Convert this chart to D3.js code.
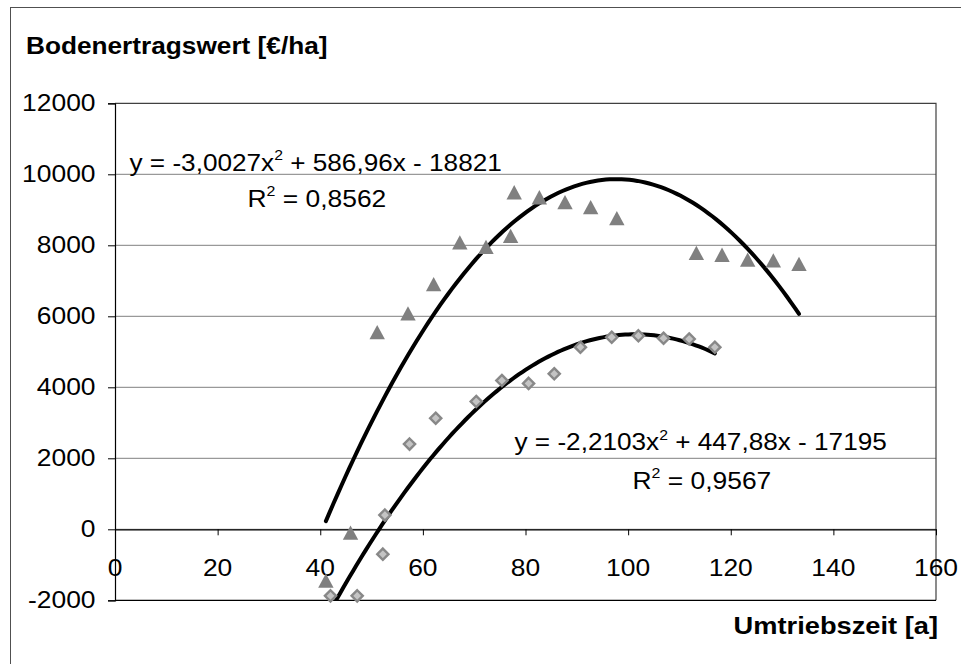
<!DOCTYPE html>
<html>
<head>
<meta charset="utf-8">
<script src="https://cdn.jsdelivr.net/npm/d3@7"></script>
<style>
  html, body { margin: 0; padding: 0; background: #fff; }
  svg { display: block; }
  text { font-family: Arial, "Liberation Sans", sans-serif; fill: #000; }
</style>
</head>
<body>
<svg id="chart" width="961" height="664"></svg>
<script>
// Rotation age [a] vs. soil expectation value [€/ha], two stands with quadratic trendlines
const xTicks = [0, 20, 40, 60, 80, 100, 120, 140, 160];
const yTicks = [-2000, 0, 2000, 4000, 6000, 8000, 10000, 12000];

// Series A (triangles)
const triX = [41.1, 45.9, 51.1, 57.1, 62.1, 67.2, 72.3, 77.1, 77.8, 82.7, 87.7, 92.7, 97.8, 113.3, 118.3, 123.3, 128.3, 133.3];
const triY = [-1450, -100, 5550, 6080, 6900, 8080, 7950, 8260, 9490, 9350, 9210, 9070, 8760, 7780, 7730, 7590, 7570, 7470];

// Series B (diamonds)
const diaX = [42.0, 47.2, 52.2, 52.6, 57.4, 62.5, 70.4, 75.4, 80.6, 85.6, 90.7, 96.8, 102.0, 106.9, 111.9, 116.9];
const diaY = [-1875, -1875, -700, 400, 2400, 3130, 3600, 4190, 4110, 4380, 5130, 5410, 5450, 5380, 5360, 5130];

// Polynomial trendline coefficients [a, b, c] for y = a x² + b x + c, and R²
const trendA = [-3.0027, 586.96, -18821];
const trendB = [-2.2103, 447.88, -17195];
const r2A = "0,8562";
const r2B = "0,9567";

const svg = d3.select("#chart");

// Outer chart frame (only the top and left edges fall inside the page)
svg.append("rect")
  .attr("x", 10.5).attr("y", 7.5).attr("width", 1000).attr("height", 1000)
  .attr("fill", "none").attr("stroke", "#505050").attr("stroke-width", 1);

const pL = 115, pR = 936, pT = 103.3, pB = 600.3;
const x = d3.scaleLinear().domain([0, 160]).range([pL, pR]);
const y = d3.scaleLinear().domain([-2000, 12000]).range([pB, pT]);

// Text helper: horizontally stretched text; object parts {sup} become superscripts
function label(g, px, py, parts, opt) {
  const t = g.append("text")
    .attr("transform", `translate(${px},${py}) scale(${opt.k || 1},1)`)
    .attr("text-anchor", opt.anchor || "start")
    .style("font-size", (opt.size || 24) + "px")
    .style("font-weight", opt.weight || "normal");
  let shift = 0;
  parts.forEach(p => {
    if (typeof p === "string") {
      t.append("tspan").attr("dy", -shift).text(p);
      shift = 0;
    } else {
      t.append("tspan").attr("dy", -10.5).style("font-size", "14.5px").text(p.sup);
      shift = -10.5;
    }
  });
  return t;
}

// Horizontal gridlines
svg.append("g").selectAll("line")
  .data(yTicks.filter(v => v > -2000 && v < 12000))
  .join("line")
  .attr("x1", pL).attr("x2", pR)
  .attr("y1", d => y(d)).attr("y2", d => y(d))
  .attr("stroke", "#808080").attr("stroke-width", 1);

// Plot area frame (top and right)
svg.append("path")
  .attr("d", `M${pL},${pT}H${pR}V${pB}`)
  .attr("fill", "none").attr("stroke", "#404040").attr("stroke-width", 1.2);
// Bottom edge
svg.append("line")
  .attr("x1", pL).attr("x2", pR).attr("y1", pB).attr("y2", pB)
  .attr("stroke", "#000").attr("stroke-width", 1.2);

// Y axis with outward ticks
const yAxis = svg.append("g").attr("transform", `translate(${pL},0)`)
  .call(d3.axisLeft(y).tickValues(yTicks).tickSize(7).tickFormat(""));
yAxis.select(".domain").attr("stroke", "#000").attr("stroke-width", 1.2);
yAxis.selectAll(".tick line").attr("stroke", "#000");

// X axis crossing at y = 0, ticks pointing down
const xAxis = svg.append("g").attr("transform", `translate(0,${y(0)})`)
  .call(d3.axisBottom(x).tickValues(xTicks).tickSize(6).tickSizeOuter(0).tickFormat(""));
xAxis.select(".domain").attr("stroke", "#000").attr("stroke-width", 1.2);
xAxis.selectAll(".tick line").attr("stroke", "#000");

// Tick labels
const tickLabels = svg.append("g");
yTicks.forEach(v => label(tickLabels, 95.5, y(v) + 7.7, [String(v)], { anchor: "end", k: 1.1 }));
xTicks.forEach(v => label(tickLabels, x(v), y(0) + 46.4, [String(v)], { anchor: "middle", k: 1.1 }));

// Trendlines, clipped to the plot area
svg.append("clipPath").attr("id", "plotClip")
  .append("rect").attr("x", pL).attr("y", pT)
  .attr("width", pR - pL).attr("height", pB - pT);

function trendPoints(coef, xs) {
  const lo = d3.min(xs), hi = d3.max(xs), n = 120;
  return d3.range(n + 1).map(i => {
    const xv = lo + (hi - lo) * i / n;
    return [xv, coef[0] * xv * xv + coef[1] * xv + coef[2]];
  });
}
const line = d3.line().x(d => x(d[0])).y(d => y(d[1])).curve(d3.curveLinear);
const trendG = svg.append("g").attr("clip-path", "url(#plotClip)");

// Markers: triangles
svg.append("g").selectAll("path")
  .data(d3.zip(triX, triY))
  .join("path")
  .attr("transform", d => `translate(${x(d[0])},${y(d[1])})`)
  .attr("d", "M0,-7.3L7.7,7L-7.7,7Z")
  .attr("fill", "#808080");

// Markers: diamonds
svg.append("g").selectAll("path")
  .data(d3.zip(diaX, diaY))
  .join("path")
  .attr("transform", d => `translate(${x(d[0])},${y(d[1])})`)
  .attr("d", "M0,-5.6L5.6,0L0,5.6L-5.6,0Z")
  .attr("fill", "#c4c4c4").attr("stroke", "#888888").attr("stroke-width", 2.4);

[[trendA, triX], [trendB, diaX]].forEach(([coef, xs]) => {
  trendG.append("path")
    .attr("d", line(trendPoints(coef, xs)))
    .attr("fill", "none").attr("stroke", "#000")
    .attr("stroke-width", 4).attr("stroke-linecap", "round");
});

// Trendline equations
const fmt = v => String(Math.abs(v)).replace(".", ",");
const eq = svg.append("g");
function equation(coef) {
  return ["y = " + (coef[0] < 0 ? "-" : "") + fmt(coef[0]) + "x", { sup: "2" },
    " " + (coef[1] < 0 ? "-" : "+") + " " + fmt(coef[1]) + "x " + (coef[2] < 0 ? "-" : "+") + " " + fmt(coef[2])];
}
label(eq, 129.5, 170.7, equation(trendA), { k: 1.09 });
label(eq, 247.5, 206.7, ["R", { sup: "2" }, " = " + r2A], { k: 1.1 });
label(eq, 514.5, 450.3, equation(trendB), { k: 1.09 });
label(eq, 632.5, 488.5, ["R", { sup: "2" }, " = " + r2B], { k: 1.1 });

// Axis titles
label(svg, 26, 54.3, ["Bodenertragswert [€/ha]"], { weight: "bold", size: 23, k: 1.14 });
label(svg, 938, 633.5, ["Umtriebszeit [a]"], { weight: "bold", size: 23.5, k: 1.16, anchor: "end" });
</script>
</body>
</html>
